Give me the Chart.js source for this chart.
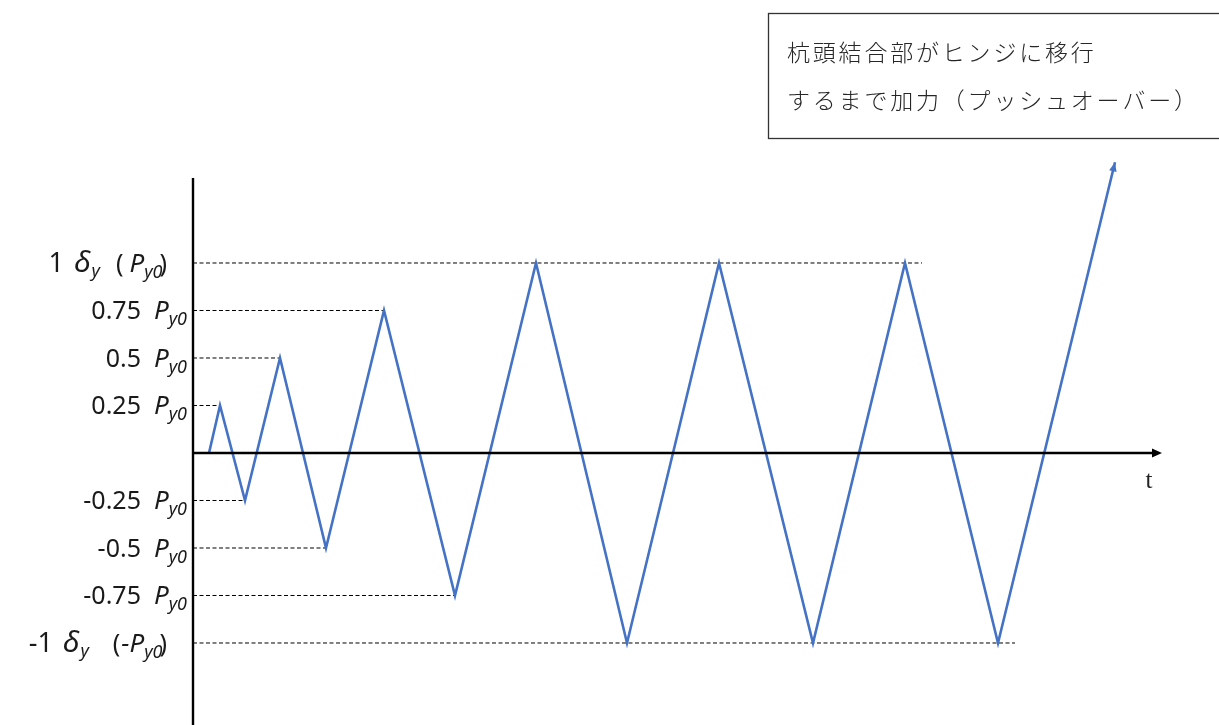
<!DOCTYPE html>
<html>
<head>
<meta charset="utf-8">
<script src="https://cdn.jsdelivr.net/npm/chart.js@4.4.1/dist/chart.umd.min.js"></script>
<style>
  html, body { margin: 0; padding: 0; background: #ffffff; }
  #wrap { width: 1219px; height: 725px; position: relative; }
</style>
</head>
<body>
<div id="wrap"><canvas id="c" width="1219" height="725"></canvas></div>
<script>
// ---- data (time in arbitrary units, load in multiples of Py0) ----
const timeValues = [1.6, 2.7, 5.2, 8.7, 13.3, 19.1, 26.2, 34.3, 43.4, 52.6, 62.0, 71.2, 80.5, 92.2];
const loadValues = [0, 0.25, -0.25, 0.5, -0.5, 0.75, -0.75, 1, -1, 1, -1, 1, -1, 1.53];

// reference (dashed) levels and where each dashed line ends
const refLevels = [1, 0.75, 0.5, 0.25, -0.25, -0.5, -0.75, -1];
const refEnds   = [72.9, 19.1, 8.7, 2.7, 5.2, 13.3, 26.2, 82.2];

// tick labels
const tickNumbers = ["1", "0.75", "0.5", "0.25", "-0.25", "-0.5", "-0.75", "-1"];
const tickIsDelta = [true, false, false, false, false, false, false, true];

// axis extents
const timeAxisEnd = 96.9;
const loadAxisTop = 1.447;
const axisLabel = "t";

// note box
const noteLines = ["杭頭結合部がヒンジに移行", "するまで加力（プッシュオーバー）"];

const BLUE = "#4472C4";

const datasets = [];
// axes (drawn on top)
datasets.push({ data: [{x: 0, y: -1.5}, {x: 0, y: loadAxisTop}], borderColor: "#000", borderWidth: 2.4, pointRadius: 0, order: 0, clip: false });
datasets.push({ data: [{x: 0, y: 0}, {x: timeAxisEnd - 0.8, y: 0}], borderColor: "#000", borderWidth: 2.4, pointRadius: 0, order: 0, clip: false });
// protocol
datasets.push({ data: timeValues.map((t, i) => ({x: t, y: loadValues[i]})), borderColor: BLUE, borderWidth: 2.6, pointRadius: 0, tension: 0, order: 1, clip: false });
// dashed references
refLevels.forEach((lv, i) => {
  datasets.push({ data: [{x: 0, y: lv}, {x: refEnds[i], y: lv}], borderColor: "#000", borderWidth: 1, borderDash: [4, 2.5], pointRadius: 0, order: 2, clip: false });
});

function drawRich(ctx, segs, right, y) {
  let total = 0;
  segs.forEach(s => { ctx.font = s.font; s.w = ctx.measureText(s.t).width; total += s.w + (s.gap || 0); });
  let x = right - total;
  segs.forEach(s => {
    ctx.font = s.font;
    ctx.fillText(s.t, x, y + (s.dy || 0));
    x += s.w + (s.gap || 0);
  });
}

const decor = {
  id: "decor",
  afterDatasetsDraw(chart) {
    const ctx = chart.ctx;
    const xs = chart.scales.x, ys = chart.scales.y;
    ctx.save();
    // x-axis arrowhead
    const ax = xs.getPixelForValue(timeAxisEnd), ay = ys.getPixelForValue(0);
    ctx.fillStyle = "#000";
    ctx.beginPath();
    ctx.moveTo(ax, ay); ctx.lineTo(ax - 10, ay - 4.5); ctx.lineTo(ax - 10, ay + 4.5); ctx.closePath(); ctx.fill();
    // blue arrowhead at last point
    const n = timeValues.length;
    const px1 = xs.getPixelForValue(timeValues[n - 2]), py1 = ys.getPixelForValue(loadValues[n - 2]);
    const px2 = xs.getPixelForValue(timeValues[n - 1]), py2 = ys.getPixelForValue(loadValues[n - 1]);
    const ang = Math.atan2(py2 - py1, px2 - px1);
    ctx.fillStyle = BLUE;
    ctx.beginPath();
    ctx.moveTo(px2, py2);
    ctx.lineTo(px2 - 9 * Math.cos(ang) + 3.8 * Math.sin(ang), py2 - 9 * Math.sin(ang) - 3.8 * Math.cos(ang));
    ctx.lineTo(px2 - 9 * Math.cos(ang) - 3.8 * Math.sin(ang), py2 - 9 * Math.sin(ang) + 3.8 * Math.cos(ang));
    ctx.closePath(); ctx.fill();

    // "t" axis label
    ctx.fillStyle = "#222";
    ctx.font = "25px 'Liberation Serif'";
    ctx.textAlign = "center";
    ctx.textBaseline = "alphabetic";
    ctx.fillText(axisLabel, ax - 13, ay + 35);

    // tick labels
    ctx.textAlign = "left";
    ctx.fillStyle = "#1a1a1a";
    const F = "25px 'Noto Sans'";
    const FB = "27px 'Noto Sans'";
    const FI = "italic 26px 'Noto Sans'";
    const FD = "italic 30px 'Noto Sans'";
    const FS = "italic 18px 'Noto Sans'";
    const axisX = xs.getPixelForValue(0);
    tickNumbers.forEach((num, i) => {
      const y = ys.getPixelForValue(refLevels[i]) + 9;
      let segs;
      if (tickIsDelta[i]) {
        const neg = num.startsWith("-");
        segs = [
          {t: num, font: FB, gap: 10},
          {t: "δ", font: FD, gap: 1},
          {t: "y", font: FS, dy: 5, gap: neg ? 24 : 16},
          {t: "(", font: F, gap: neg ? 1 : 6},
          {t: (neg ? "-" : "") + "P", font: FI, gap: 0},
          {t: "y0", font: FS, dy: 6, gap: -3},
          {t: ")", font: F}
        ];
        drawRich(ctx, segs, axisX - 26, y);
      } else {
        segs = [
          {t: num, font: F, gap: 13},
          {t: "P", font: FI, gap: 0},
          {t: "y0", font: FS, dy: 6}
        ];
        drawRich(ctx, segs, axisX - 6, y);
      }
    });

    // note box
    ctx.strokeStyle = "#333";
    ctx.lineWidth = 1.3;
    ctx.strokeRect(768.5, 13.5, 470, 125);
    ctx.fillStyle = "#262626";
    ctx.font = "300 23px 'Noto Sans CJK JP'";
    ctx.textBaseline = "middle";
    const pitch = 25.8;
    noteLines.forEach((line, li) => {
      const y = li === 0 ? 52 : 100;
      [...line].forEach((ch, k) => { ctx.fillText(ch, 787 + k * pitch, y); });
    });
    ctx.restore();
  }
};

new Chart(document.getElementById("c"), {
  type: "line",
  data: { datasets },
  options: {
    responsive: false,
    animation: false,
    layout: { padding: { left: 193, right: 0, top: 0, bottom: 0 } },
    plugins: { legend: { display: false }, tooltip: { enabled: false }, title: { display: false } },
    scales: {
      x: { type: "linear", min: 0, max: 102.6, display: false },
      y: { type: "linear", min: -1.4316, max: 2.3842, display: false }
    },
    elements: { line: { borderCapStyle: "butt", borderJoinStyle: "miter" } }
  },
  plugins: [decor]
});
</script>
</body>
</html>
